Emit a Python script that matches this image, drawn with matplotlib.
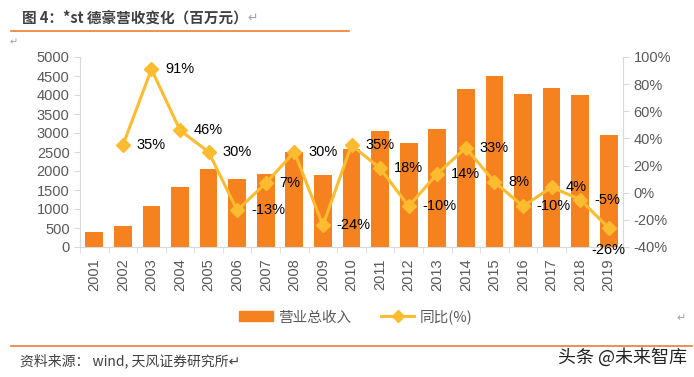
import numpy as np
import matplotlib.pyplot as plt
from matplotlib.lines import Line2D
from matplotlib.patches import Patch

years = [str(y) for y in range(2001, 2020)]
revenue = [400, 550, 1080, 1580, 2050, 1790, 1920, 2500, 1900, 2580,
           3050, 2740, 3100, 4160, 4500, 4030, 4180, 4000, 2950]
growth = [np.nan, 35, 91, 46, 30, -13, 7, 30, -24, 35,
          18, -10, 14, 33, 8, -10, 4, -5, -26]
left_ticks = list(range(0, 5001, 500))
right_ticks = list(range(-40, 101, 20))

BAR = "#F5821F"
LINE = "#FDBB2F"
GRAY = "#595959"
SPINE = "#D9D9D9"

plt.rcParams['font.family'] = ['Liberation Sans', 'Noto Sans CJK SC', 'DejaVu Sans']
CJK = ['Noto Sans CJK SC', 'DejaVu Sans']

fig = plt.figure(figsize=(6.94, 3.77), dpi=100)
ax = fig.add_axes([80 / 694, 1 - 247 / 377, 543 / 694, 190 / 377])
ax2 = ax.twinx()

x = np.arange(len(years))
ax.bar(x, revenue, width=0.62, color=BAR, zorder=2)
ax.set_xlim(-0.5, len(years) - 0.5)
ax.set_ylim(0, 5000)
ax.set_yticks(left_ticks)
ax.set_xticks(x)
ax.set_xticklabels(years, rotation=90, fontsize=10.5, color=GRAY)
ax.set_xticks(np.arange(-0.5, len(years), 1), minor=True)
ax.tick_params(axis='x', which='major', length=0, pad=8)
ax.tick_params(axis='x', which='minor', length=4, color=SPINE)
ax.tick_params(axis='y', labelsize=10.5, labelcolor=GRAY, color=SPINE, length=4)

ax2.plot(x, growth, color=LINE, lw=2.2, marker='D', ms=7, zorder=3)
ax2.set_ylim(-40, 100)
ax2.set_yticks(right_ticks)
ax2.set_yticklabels([f"{t}%" for t in right_ticks])
ax2.tick_params(axis='y', labelsize=10.5, labelcolor=GRAY, color=SPINE, length=4)

for a in (ax, ax2):
    for s in a.spines.values():
        s.set_visible(False)
ax.spines['left'].set_visible(True)
ax.spines['left'].set_color(SPINE)
ax.spines['bottom'].set_visible(True)
ax.spines['bottom'].set_color(SPINE)
ax2.spines['right'].set_visible(True)
ax2.spines['right'].set_color(SPINE)

# data labels
for i, g in enumerate(growth):
    if np.isnan(g):
        continue
    if i == len(growth) - 1:
        ax2.annotate(f"{g:.0f}%", (i, g), xytext=(0, -16), textcoords='offset points',
                     ha='center', va='center', fontsize=10.5, color='black', zorder=4)
    else:
        ax2.annotate(f"{g:.0f}%", (i, g), xytext=(10, 0), textcoords='offset points',
                     ha='left', va='center', fontsize=10.5, color='black', zorder=4)

handles = [Patch(color=BAR),
           Line2D([0], [0], color=LINE, lw=2.2, marker='D', ms=6)]
fig.legend(handles, ["营业总收入", "同比(%)"], loc='center', bbox_to_anchor=(356 / 694, 1 - 317 / 377),
           ncol=2, frameon=False, prop={'family': CJK, 'size': 10.5}, labelcolor=GRAY,
           handlelength=2.3, columnspacing=2.0, handletextpad=0.4)

# header / footer
fig.text(22 / 694, 1 - 18 / 377, "图 4：*st 德豪营收变化（百万元）", family=CJK, fontsize=10.5,
         fontweight='bold', color="#404040", va='center', ha='left')
fig.text(247 / 694, 1 - 18 / 377, "↵", family=CJK, fontsize=9, color="#A0A0A0", va='center')
fig.text(10 / 694, 1 - 42 / 377, "↵", family=CJK, fontsize=7, color="#A0A0A0", va='center')
fig.text(676 / 694, 1 - 318 / 377, "↵", family=CJK, fontsize=8, color="#A0A0A0", va='center')
fig.add_artist(Line2D([11 / 694, 349 / 694], [1 - 31 / 377] * 2, color="#ED7D31", lw=1.2))
fig.add_artist(Line2D([11 / 694, 692 / 694], [1 - 346 / 377] * 2, color="#ED7D31", lw=1.2))
fig.text(20 / 694, 1 - 361 / 377, "资料来源： wind, 天风证券研究所↵", family=CJK, fontsize=10,
         color="#404040", va='center', ha='left')
fig.text(558 / 694, 1 - 357 / 377, "头条 @未来智库", family=CJK, fontsize=13,
         color="#222222", va='center', ha='left')

fig.savefig("out.png", dpi=100)
